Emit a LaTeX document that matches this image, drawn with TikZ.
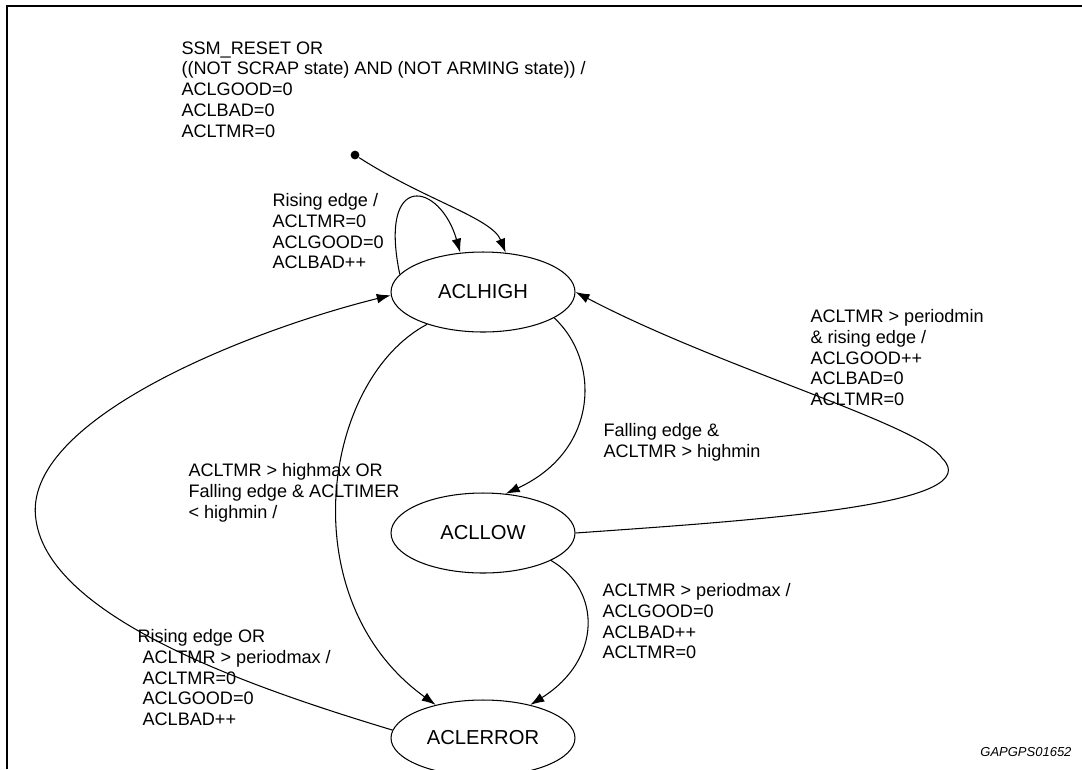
\documentclass[tikz,border=0pt]{standalone}
\usepackage{fontspec}
\setmainfont{Liberation Sans}
\usetikzlibrary{shapes.geometric,arrows.meta}
\begin{document}
\begin{tikzpicture}[x=0.02cm, y=-0.02cm, line width=0.6pt,
    every node/.style={font=\fontsize{10.3}{11.8}\selectfont},
    state/.style={draw, ellipse, minimum width=3.68cm, minimum height=1.6cm, inner sep=0pt,
        font=\fontsize{11.5}{13}\selectfont},
    lbl/.style={anchor=north west, align=left, inner sep=0pt},
    tr/.style={-{Latex[length=8pt,width=5.5pt]}}]
    \useasboundingbox (0,0) rectangle (1082,769);
    \draw[line width=1.1pt] (7,769) -- (7,6) -- (1082,6);
    % states
    \node[state] (high) at (483,292) {ACLHIGH};
    \node[state] (low) at (483,533) {ACLLOW};
    \node[state, minimum height=1.52cm] (err) at (483,738) {ACLERROR};
    \node[circle, fill, inner sep=0pt, minimum size=5pt] (init) at (355,155) {};
    % transitions
    \draw[tr] (init) .. controls (425,200) and (492,218) .. (high.60);
    \draw[tr] (high.168) .. controls (378,170) and (440,182) .. (high.120);
    \draw[tr] (high.-20) .. controls (600,360) and (600,450) .. (low.60);
    \draw[tr] (low.east) .. controls (760,520) and (990,505) .. (942,458)
        .. controls (922,425) and (720,368) .. (high.east);
    \draw[tr] (high.-150) .. controls (322,380) and (290,600) .. (err.145);
    \draw[tr] (low.-22) .. controls (602,590) and (602,660) .. (err.35);
    \draw[tr] (err.175) .. controls (260,690) and (50,620) .. (36,520)
        .. controls (20,420) and (250,330) .. (high.182);
    % labels
    \node[lbl] (initlbl) at (181,41) {SSM\_RESET OR\\((NOT SCRAP state) AND (NOT ARMING state)) /\\ACLGOOD=0\\ACLBAD=0\\ACLTMR=0};
    \node[lbl] (looplbl) at (272,193) {Rising edge /\\ACLTMR=0\\ACLGOOD=0\\ACLBAD++};
    \node[lbl] (falllbl) at (603,423) {Falling edge \&\\ACLTMR > highmin};
    \node[lbl] (riselbl) at (810,309) {ACLTMR > periodmin\\\& rising edge /\\ACLGOOD++\\ACLBAD=0\\ACLTMR=0};
    \node[lbl] (hmaxlbl) at (188,463) {ACLTMR > highmax OR\\Falling edge \& ACLTIMER\\< highmin /};
    \node[lbl] (pmaxlbl) at (602,583) {ACLTMR > periodmax /\\ACLGOOD=0\\ACLBAD++\\ACLTMR=0};
    \node[lbl] (errlbl) at (137,629) {Rising edge OR\\\ ACLTMR > periodmax /\\\ ACLTMR=0\\\ ACLGOOD=0\\\ ACLBAD++};
    \node[anchor=east, inner sep=0pt, font=\fontsize{7.4}{9}\selectfont\itshape] (figid) at (1072,752) {GAPGPS01652};
\end{tikzpicture}
\end{document}
